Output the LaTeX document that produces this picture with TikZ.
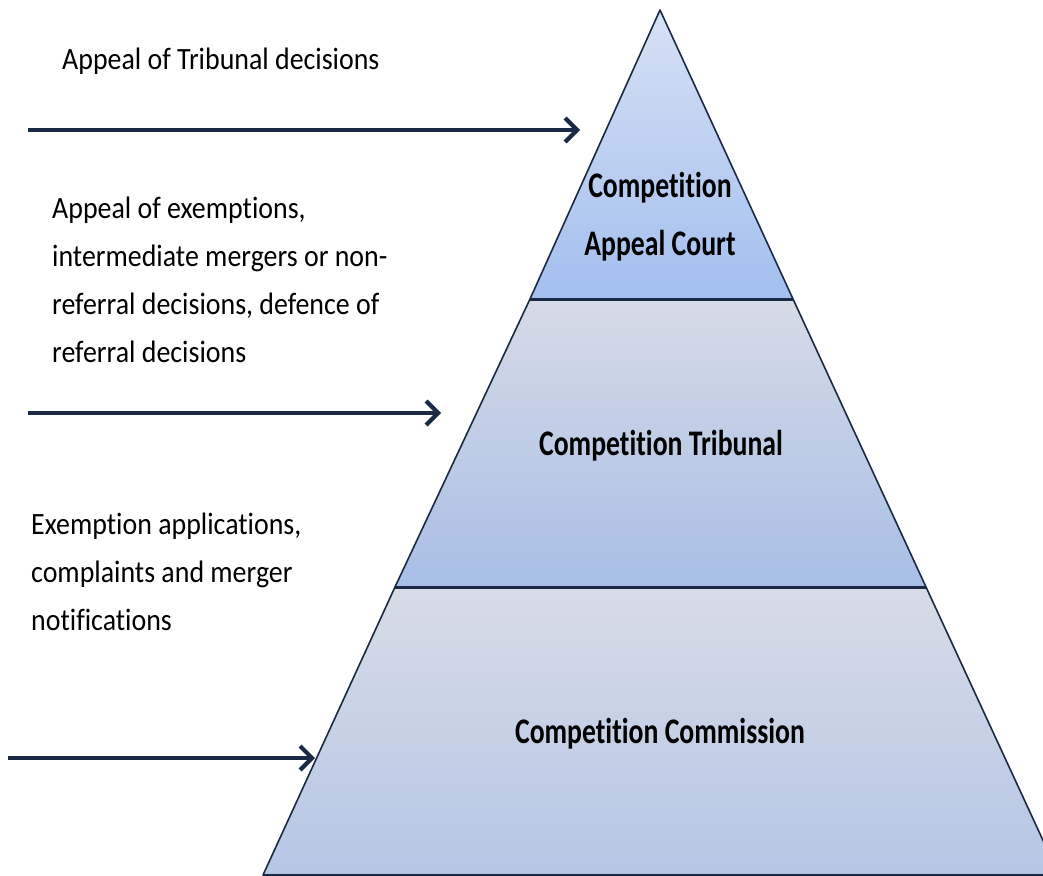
\documentclass[tikz,border=0pt]{standalone}
\usepackage{fontspec}
\setmainfont{Carlito}[Ligatures=NoCommon]
\newfontfamily\notefont{Carlito}[FakeStretch=0.9, Ligatures=NoCommon]
\newfontfamily\tierfont{Carlito}[FakeStretch=0.77, Ligatures=NoCommon]
\usepackage{tikz}
\usetikzlibrary{arrows.meta}
\definecolor{navyline}{RGB}{27, 42, 68}
\definecolor{courttop}{RGB}{214, 225, 244}
\definecolor{courtbot}{RGB}{163, 191, 239}
\definecolor{tribtop}{RGB}{214, 219, 230}
\definecolor{tribbot}{RGB}{168, 190, 230}
\definecolor{commtop}{RGB}{215, 220, 230}
\definecolor{commbot}{RGB}{181, 198, 229}

\begin{document}
\begin{tikzpicture}[x=1pt, y=-1pt,
    tier/.style={draw=navyline, line width=1.6pt, line join=round},
    sep/.style={draw=navyline, line width=3pt},
    tierlabel/.style={font=\tierfont\bfseries\fontsize{36}{58}\selectfont,
                align=center, inner sep=0pt, anchor=base},
    note/.style={font=\notefont\fontsize{31}{47.7}\selectfont,
                align=left, inner sep=0pt, anchor=base west},
    arr/.style={-{Straight Barb[length=12pt, width=24pt]}, line width=4.2pt, color=navyline}
]

\clip (0,0) rectangle (1043,875);

\coordinate (apex)  at (660,10);
\coordinate (c1l)   at (530,299);
\coordinate (c1r)   at (793,299);
\coordinate (c2l)   at (395,587);
\coordinate (c2r)   at (926,587);
\coordinate (c3l)   at (263,875);
\coordinate (c3r)   at (1059,875);

\shade[tier, top color=commtop, bottom color=commbot] (c2l) -- (c2r) -- (c3r) -- (c3l) -- cycle;
\shade[tier, top color=tribtop, bottom color=tribbot] (c1l) -- (c1r) -- (c2r) -- (c2l) -- cycle;
\shade[tier, top color=courttop, bottom color=courtbot] (apex) -- (c1r) -- (c1l) -- cycle;
\draw[sep] (c1l) -- (c1r);
\draw[sep] (c2l) -- (c2r);

% base anchor sits on the last line
\node[tierlabel] (court)      at (660,255) {Competition\\Appeal Court};
\node[tierlabel] (tribunal)   at (661,455) {Competition Tribunal};
\node[tierlabel] (commission) at (660,743) {Competition Commission};

\node[note] (tribappeal) at (62,70)  {Appeal of Tribunal decisions};
\node[note] (commappeal) at (52,362) {Appeal of exemptions,\\intermediate mergers or non-\\referral decisions, defence of\\referral decisions};
\node[note] (filings)    at (31,630) {Exemption applications,\\complaints and merger\\notifications};

\coordinate (a1s) at (28,130);
\coordinate (a1e) at (580,130);
\coordinate (a2s) at (28,413);
\coordinate (a2e) at (441,413);
\coordinate (a3s) at (8,758);
\coordinate (a3e) at (315,758);

\draw[arr] (a1s) -- (a1e);
\draw[arr] (a2s) -- (a2e);
\draw[arr] (a3s) -- (a3e);

\end{tikzpicture}
\end{document}
